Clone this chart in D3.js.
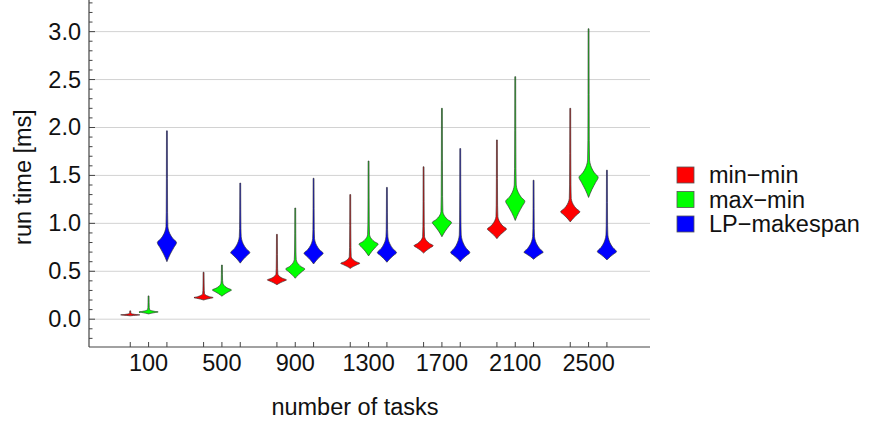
<!DOCTYPE html>
<html>
<head>
<meta charset="utf-8">
<script src="https://cdn.jsdelivr.net/npm/d3@7"></script>
<style>
  html, body { margin: 0; padding: 0; background: #fff; }
  svg { display: block; font-family: "Liberation Sans", Arial, sans-serif; }
</style>
</head>
<body>
<svg id="chart" width="870" height="423"></svg>
<script>
// ---------------- data ----------------
const categories = [100, 500, 900, 1300, 1700, 2100, 2500];
const seriesNames = ["min\u2212min", "max\u2212min", "LP\u2212makespan"];
const seriesColors = ["#ff0000", "#00ff00", "#0000ff"];
const yTicks = [0.0, 0.5, 1.0, 1.5, 2.0, 2.5, 3.0];

// per-series summary of each violin: lowest value, peak (mode), top of bulb, highest value
const minMinLow   = [0.035, 0.200, 0.360, 0.530, 0.690, 0.840, 1.015];
const minMinMode  = [0.045, 0.225, 0.410, 0.583, 0.767, 0.940, 1.120];
const minMinBulb  = [0.060, 0.265, 0.470, 0.650, 0.860, 1.070, 1.260];
const minMinHigh  = [0.087, 0.490, 0.885, 1.300, 1.590, 1.870, 2.200];

const maxMinLow   = [0.055, 0.240, 0.427, 0.660, 0.860, 1.030, 1.270];
const maxMinMode  = [0.076, 0.305, 0.524, 0.784, 1.010, 1.230, 1.480];
const maxMinBulb  = [0.100, 0.375, 0.620, 0.880, 1.120, 1.400, 1.660];
const maxMinHigh  = [0.243, 0.565, 1.160, 1.650, 2.200, 2.530, 3.030];

const lpLow       = [0.600, 0.585, 0.576, 0.594, 0.600, 0.625, 0.618];
const lpMode      = [0.800, 0.695, 0.687, 0.694, 0.694, 0.698, 0.704];
const lpBulb      = [0.965, 0.860, 0.840, 0.860, 0.878, 0.860, 0.878];
const lpHigh      = [1.965, 1.420, 1.470, 1.375, 1.780, 1.450, 1.555];

const seriesStats = [
  {low: minMinLow, mode: minMinMode, bulb: minMinBulb, high: minMinHigh},
  {low: maxMinLow, mode: maxMinMode, bulb: maxMinBulb, high: maxMinHigh},
  {low: lpLow,     mode: lpMode,     bulb: lpBulb,     high: lpHigh}
];

// ---------------- layout ----------------
const svg = d3.select("#chart");
const pLeft = 89, pRight = 650, pTop = 0, pBottom = 347;

const y = d3.scaleLinear().domain([-0.29, 3.33]).range([pBottom, pTop]);
// slot index: 4 slots per category (3 violins + gap)
const x = d3.scaleLinear().domain([-2.25, 28.35]).range([pLeft, pRight]);
const slot = (ci, si) => ci * 4 + si;
const halfW = 9.6;

// grid lines
svg.append("g").selectAll("line").data(yTicks).join("line")
  .attr("x1", pLeft).attr("x2", pRight)
  .attr("y1", d => y(d)).attr("y2", d => y(d))
  .attr("stroke", "#d2d2d2").attr("stroke-width", 1);

// violin outline template (relative position, relative half-width)
const lowShape  = [[0, 0], [0.4, 0.35], [0.75, 0.74], [1, 1]];
const upShape   = [[0.25, 0.62], [0.55, 0.31], [0.85, 0.14], [1, 0.1]];
const tailShape = [[0.15, 0.07], [0.5, 0.055], [1, 0.045]];

function profile(low, mode, bulb, high) {
  const pts = [];
  lowShape.forEach(([t, w]) => pts.push([low + t * (mode - low), w]));
  upShape.forEach(([t, w]) => pts.push([mode + t * (bulb - mode), w]));
  tailShape.forEach(([t, w]) => pts.push([bulb + t * (high - bulb), w]));
  return pts;
}

const violinData = [];
seriesStats.forEach((s, si) => {
  categories.forEach((c, ci) => {
    violinData.push({si, ci, pts: profile(s.low[ci], s.mode[ci], s.bulb[ci], s.high[ci])});
  });
});

const area = d3.area()
  .curve(d3.curveMonotoneY)
  .y(d => y(d[0]));

svg.append("g").selectAll("path").data(violinData).join("path")
  .attr("d", d => {
    const cx = x(slot(d.ci, d.si));
    return area.x0(p => cx - p[1] * halfW).x1(p => cx + p[1] * halfW)(d.pts);
  })
  .attr("fill", d => seriesColors[d.si])
  .attr("stroke", "#333")
  .attr("stroke-opacity", 0.85)
  .attr("stroke-width", 0.8);

// axes
const axisColor = "#444";
const yAxis = svg.append("g");
yAxis.append("line").attr("x1", pLeft).attr("x2", pLeft).attr("y1", pTop).attr("y2", pBottom)
  .attr("stroke", axisColor).attr("stroke-width", 1.2);
const minorY = d3.range(-2, 34).map(v => v / 10);
yAxis.selectAll("line.t").data(minorY).join("line").attr("class", "t")
  .attr("x1", pLeft).attr("x2", d => pLeft + (Math.abs(d * 2 - Math.round(d * 2)) < 1e-6 ? 6 : 3.5))
  .attr("y1", d => y(d)).attr("y2", d => y(d))
  .attr("stroke", axisColor).attr("stroke-width", 1);
yAxis.selectAll("text").data(yTicks).join("text")
  .attr("x", pLeft - 8).attr("y", d => y(d))
  .attr("text-anchor", "end").attr("dominant-baseline", "central")
  .attr("font-size", 23.5).attr("fill", "#111")
  .text(d => d3.format(".1f")(d));

const xAxis = svg.append("g");
xAxis.append("line").attr("x1", pLeft).attr("x2", pRight).attr("y1", pBottom).attr("y2", pBottom)
  .attr("stroke", axisColor).attr("stroke-width", 1.2);
const xTickSlots = [];
categories.forEach((c, ci) => seriesNames.forEach((s, si) => xTickSlots.push(slot(ci, si))));
xAxis.selectAll("line.t").data(xTickSlots).join("line").attr("class", "t")
  .attr("x1", d => x(d)).attr("x2", d => x(d))
  .attr("y1", pBottom).attr("y2", pBottom - 5)
  .attr("stroke", axisColor).attr("stroke-width", 1);
xAxis.selectAll("text").data(categories).join("text")
  .attr("x", (d, ci) => x(slot(ci, 1))).attr("y", 363)
  .attr("text-anchor", "middle").attr("dominant-baseline", "central")
  .attr("font-size", 23.5).attr("fill", "#111")
  .text(d => d);

// axis titles
svg.append("text").attr("x", 355).attr("y", 407)
  .attr("text-anchor", "middle").attr("dominant-baseline", "central")
  .attr("font-size", 23.5).attr("fill", "#111").text("number of tasks");
svg.append("text").attr("transform", "translate(23,177) rotate(-90)")
  .attr("text-anchor", "middle").attr("dominant-baseline", "central")
  .attr("font-size", 23.5).attr("fill", "#111").text("run time [ms]");

// legend
const legend = svg.append("g").selectAll("g").data(seriesNames).join("g")
  .attr("transform", (d, i) => `translate(0,${175 + i * 24.5})`);
legend.append("rect").attr("x", 677).attr("y", -8).attr("width", 17).attr("height", 16)
  .attr("fill", (d, i) => seriesColors[i]).attr("stroke", "#555").attr("stroke-width", 0.8);
legend.append("text").attr("x", 709).attr("y", 0)
  .attr("dominant-baseline", "central").attr("font-size", 23.5).attr("fill", "#111")
  .text(d => d);
</script>
</body>
</html>
